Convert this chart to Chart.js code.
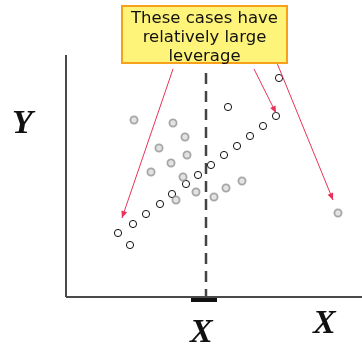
<!DOCTYPE html>
<html>
<head>
<meta charset="utf-8">
<script src="https://cdn.jsdelivr.net/npm/chart.js@4"></script>
<style>
  html, body { margin: 0; padding: 0; background: #fff; }
  #wrap { position: relative; width: 362px; height: 350px; overflow: hidden; }
  #chart { position: absolute; left: 0; top: 0; }
  .axis-label {
    position: absolute;
    font-family: "Liberation Serif", "DejaVu Serif", serif;
    font-style: italic;
    font-weight: bold;
    font-size: 34px;
    color: #111;
    line-height: 1;
  }
  #note {
    position: absolute;
    left: 121px; top: 5px; width: 163px; height: 54px;
    background: #fff47a;
    border: 2px solid #f7a11a;
    font-family: "DejaVu Sans", Verdana, sans-serif;
    font-size: 16.5px;
    line-height: 19px;
    text-align: center;
    color: #111;
    padding-top: 1px;
  }
</style>
</head>
<body>
<div id="wrap">
  <canvas id="chart" width="362" height="350"></canvas>
  <div id="note">These cases have<br>relatively large<br>leverage</div>
  <div class="axis-label" style="left:12px; top:105px;">Y</div>
  <div class="axis-label" style="left:190px; top:314px;">X</div>
  <div class="axis-label" style="left:313px; top:305px;">X</div>
</div>
<script>
// Open (black) cases: the points that lie along the line, plus two others
const lineCasesX = [52, 64, 67, 80, 94, 106, 120, 132, 145, 158, 171, 184, 197, 210, 162, 213];
const lineCasesY = [64, 52, 73, 83, 93, 103, 113, 122, 132, 142, 151, 161, 171, 181, 190, 219];

// Faded (grey) cases scattered above / below the line
const fadedCasesX = [68, 107, 119, 93, 121, 105, 85, 117, 130, 110, 148, 160, 176, 272];
const fadedCasesY = [177, 174, 160, 149, 142, 134, 125, 120, 105, 97, 100, 109, 116, 84];

// Axes extents and the mean of X
const axisXEnd = 296;
const axisYEnd = 242;
const meanX = 140;
const meanLineTop = 224;
const meanBar = [125, 151];

// Arrows from the note box to the high leverage cases: [x0, y0, x1, y1]
const arrows = [
  [107, 228, 56, 79],
  [188, 228, 210, 184],
  [211, 234, 267, 97]
];

const arrowColor = '#e8325a';

function seg(x0, y0, x1, y1) {
  return [{x: x0, y: y0}, {x: x1, y: y1}];
}

const datasets = [];

// axes
datasets.push({
  type: 'line', data: seg(0, 0, axisXEnd, 0),
  borderColor: '#4a4a4a', borderWidth: 2, pointRadius: 0
});
datasets.push({
  type: 'line', data: seg(0, 0, 0, axisYEnd),
  borderColor: '#4a4a4a', borderWidth: 2, pointRadius: 0
});

// mean of X: dashed line and thick bar on the axis
datasets.push({
  type: 'line', data: seg(meanX, meanLineTop, meanX, 0),
  borderColor: '#444', borderWidth: 2.5, borderDash: [11, 7], pointRadius: 0
});
datasets.push({
  type: 'line', data: seg(meanBar[0], -2, meanBar[1], -2),
  borderColor: '#111', borderWidth: 6, pointRadius: 0, borderCapStyle: 'butt'
});

// arrows
arrows.forEach(a => {
  datasets.push({
    type: 'line', data: seg(a[0], a[1], a[2], a[3]),
    borderColor: arrowColor, borderWidth: 1, pointRadius: 0, isArrow: true
  });
});

// faded cases
datasets.push({
  type: 'scatter',
  data: fadedCasesX.map((x, i) => ({x: x, y: fadedCasesY[i]})),
  pointRadius: 3.6,
  pointBorderWidth: 1.8,
  pointBorderColor: 'rgba(140,140,140,0.75)',
  pointBackgroundColor: 'rgba(215,215,215,0.7)'
});

// open black cases
datasets.push({
  type: 'scatter',
  data: lineCasesX.map((x, i) => ({x: x, y: lineCasesY[i]})),
  pointRadius: 3.6,
  pointBorderWidth: 1,
  pointBorderColor: '#111',
  pointBackgroundColor: '#fff'
});

// arrowheads at the end of each arrow line
const arrowHeads = {
  id: 'arrowHeads',
  afterDatasetsDraw(chart) {
    const ctx = chart.ctx;
    const xs = chart.scales.x, ys = chart.scales.y;
    chart.data.datasets.forEach(ds => {
      if (!ds.isArrow) return;
      const p0 = ds.data[0], p1 = ds.data[1];
      const x0 = xs.getPixelForValue(p0.x), y0 = ys.getPixelForValue(p0.y);
      const x1 = xs.getPixelForValue(p1.x), y1 = ys.getPixelForValue(p1.y);
      const ang = Math.atan2(y1 - y0, x1 - x0);
      const len = 7, w = 3;
      ctx.save();
      ctx.fillStyle = arrowColor;
      ctx.beginPath();
      ctx.moveTo(x1, y1);
      ctx.lineTo(x1 - len * Math.cos(ang) + w * Math.sin(ang), y1 - len * Math.sin(ang) - w * Math.cos(ang));
      ctx.lineTo(x1 - len * Math.cos(ang) - w * Math.sin(ang), y1 - len * Math.sin(ang) + w * Math.cos(ang));
      ctx.closePath();
      ctx.fill();
      ctx.restore();
    });
  }
};

new Chart(document.getElementById('chart'), {
  type: 'scatter',
  data: {datasets: datasets},
  options: {
    responsive: false,
    animation: false,
    layout: {padding: 0, autoPadding: false},
    plugins: {legend: {display: false}, tooltip: {enabled: false}},
    scales: {
      x: {type: 'linear', min: -66, max: 296, display: false},
      y: {type: 'linear', min: -53, max: 297, display: false}
    }
  },
  plugins: [arrowHeads]
});
</script>
</body>
</html>
